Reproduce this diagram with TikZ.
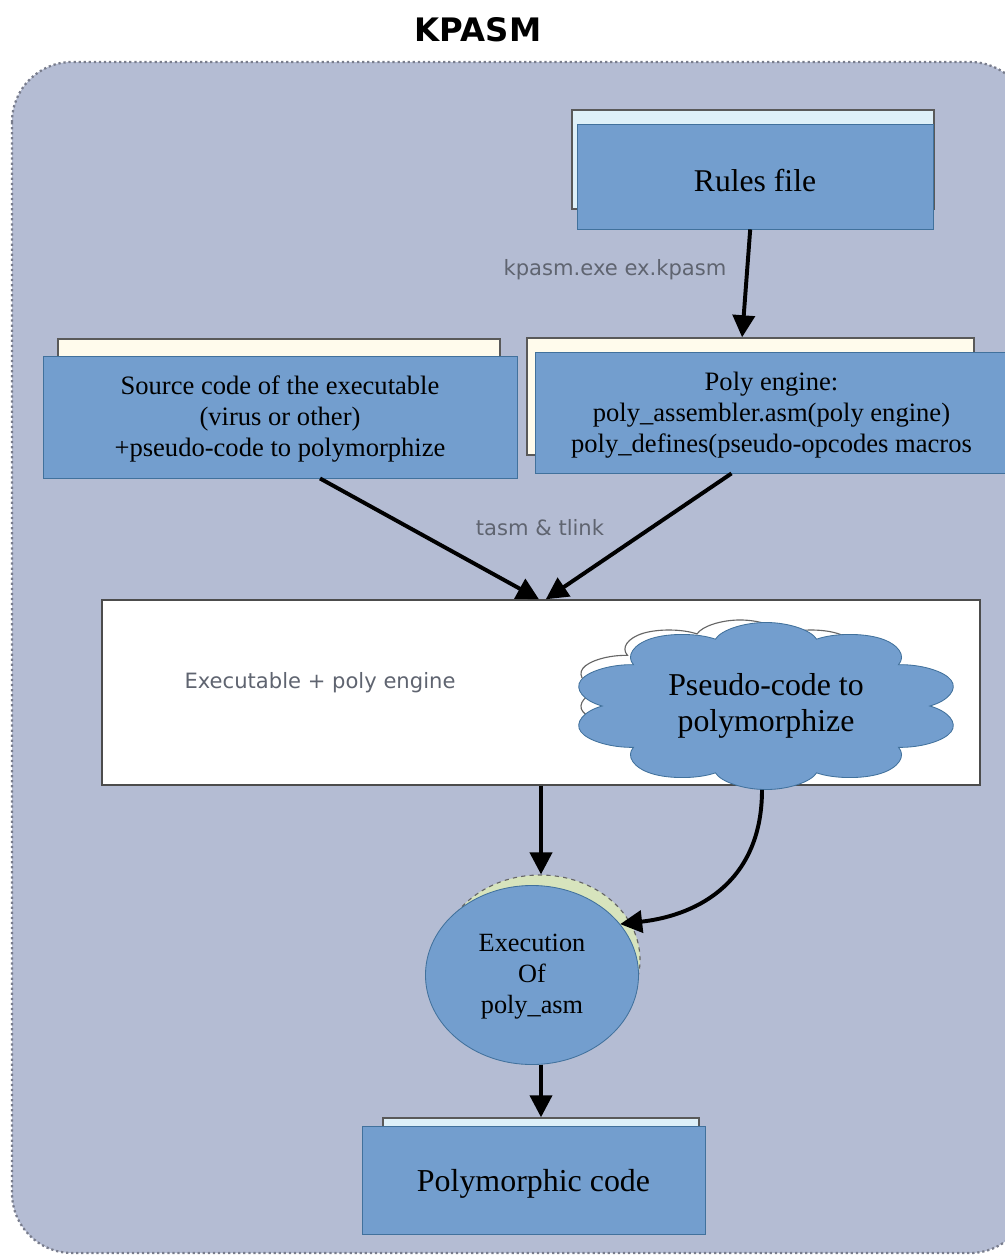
\documentclass[tikz,border=0pt]{standalone}
\usepackage{fontspec}
\setmainfont{Liberation Serif}
\newfontfamily\labelfont{DejaVu Sans}
\usepackage{tikz}
\usetikzlibrary{arrows.meta,positioning,shapes.geometric,shapes.symbols}
\usepackage{xcolor}
\definecolor{panelgray}{RGB}{180,188,211}
\definecolor{panelline}{RGB}{120,124,140}
\definecolor{boxblue}{RGB}{115,158,206}
\definecolor{boxedge}{RGB}{65,113,156}
\definecolor{backcyan}{RGB}{222,240,248}
\definecolor{backivory}{RGB}{255,251,236}
\definecolor{backgreen}{RGB}{215,228,189}
\definecolor{labelgray}{RGB}{95,100,112}

\begin{document}
\begin{tikzpicture}[
    x=0.025cm, y=-0.025cm,
    bluebox/.style={rectangle,draw=boxedge,fill=boxblue,line width=0.6pt,
                    inner sep=0pt,align=center},
    backbox/.style={rectangle,draw=black!65,line width=1pt,inner sep=0pt},
    puffy/.style={cloud,cloud puffs=10,inner sep=0pt,minimum width=#1,minimum height=#1,
                  transform shape},
    flowlabel/.style={font=\labelfont\fontsize{15}{18}\selectfont,text=labelgray},
    arrow/.style={-{Triangle[length=5.5mm,width=5.5mm]},line width=2.8pt}
]
    \useasboundingbox (0,0) rectangle (1005,1256);
    % panel
    \node[font=\labelfont\bfseries\fontsize{23}{26}\selectfont] (title) at (478,30) {KPASM};
    \draw[fill=panelgray,draw=panelline,line width=1.6pt,dotted,rounded corners=1.5cm]
        (12,62) rectangle (1030,1253);

    % old boxes behind
    \node[backbox,fill=backcyan,minimum width=9.05cm,minimum height=2.475cm] (rulesback) at (753,159.5) {};
    \node[backbox,fill=backivory,minimum width=11.05cm,minimum height=3.275cm] (srcback) at (279,404.5) {};
    \node[backbox,fill=backivory,minimum width=11.175cm,minimum height=2.925cm] (polyback) at (750.5,396.5) {};
    \node[backbox,fill=backcyan,minimum width=7.9cm,minimum height=2.05cm] (outback) at (541,1159) {};

    % blue boxes
    \node[bluebox,minimum width=8.9cm,minimum height=2.625cm,text height=0.75cm,
          font=\fontsize{22.5}{26}\selectfont] (rules) at (755,176.5) {Rules file};
    \node[bluebox,minimum width=11.85cm,minimum height=3.05cm,
          font=\fontsize{18.9}{22}\selectfont] (src) at (280,417)
          {\\[-0.2cm]Source code of the executable\\(virus or other)\\+pseudo-code to polymorphize};
    \node[bluebox,minimum width=11.825cm,minimum height=3.025cm,
          font=\fontsize{18.9}{22}\selectfont] (poly) at (771.5,412.5)
          {\\[-0.2cm]Poly engine:\\poly\_assembler.asm(poly engine)\\poly\_defines(pseudo-opcodes macros};

    % executable
    \node[rectangle,draw=black!70,fill=white,line width=1pt,minimum width=21.95cm,
          minimum height=4.625cm] (exebox) at (541,692.5) {};
    \node[flowlabel] (exelabel) at (320,683) {Executable + poly engine};
    \node[puffy=3.5cm,xscale=2.36,draw=black!60,fill=white,line width=0.8pt] (cloudback) at (740,690) {};
    \node[puffy=4.175cm,xscale=2.33,draw=boxedge,fill=boxblue,line width=0.6pt,
          font=\fontsize{22.6}{26}\selectfont] (cloud) at (766,706)
          {\scalebox{0.43}[1]{\begin{tabular}{@{}c@{}}Pseudo-code to\\polymorphize\end{tabular}}};

    % execution
    \node[ellipse,draw=black!60,dashed,fill=backgreen,line width=0.8pt,
          minimum width=5cm,minimum height=4.25cm] (ellback) at (540,960) {};
    \node[ellipse,draw=boxedge,fill=boxblue,line width=0.6pt,align=center,inner sep=0pt,
          minimum width=5.325cm,minimum height=4.475cm,
          font=\fontsize{18.7}{22}\selectfont] (exec) at (532,975)
          {\\[-0.25cm]Execution\\Of\\poly\_asm};

    \node[bluebox,minimum width=8.575cm,minimum height=2.7cm,text height=0.75cm,
          font=\fontsize{22.7}{26}\selectfont] (out) at (533.5,1180) {Polymorphic code};

    % arrows
    \draw[arrow] ([xshift=-0.12cm]rules.south) -- ([xshift=-0.21cm]polyback.north);
    \node[flowlabel] (kpasmlabel) at (615,270) {kpasm.exe ex.kpasm};
    \draw[arrow] ([xshift=1cm]src.south) -- ([xshift=-0.05cm]exebox.north);
    \draw[arrow] ([xshift=-1cm]poly.south) -- ([xshift=0.12cm]exebox.north);
    \node[flowlabel] (tasmlabel) at (540,528) {tasm \& tlink};
    \draw[arrow] ([xshift=-0.1cm]cloud.south) .. controls (762,880) and (700,915) .. (exec.30);
    \draw[arrow] (exebox.south) -- (exebox.south |- ellback.north);
    \draw[arrow] (exebox.south |- exec.south) -- (exebox.south |- outback.north);
\end{tikzpicture}
\end{document}
